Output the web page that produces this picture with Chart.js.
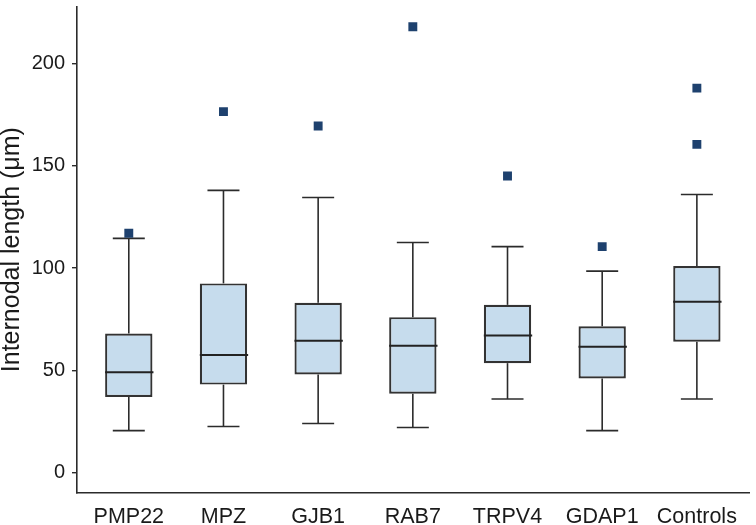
<!DOCTYPE html>
<html>
<head>
<meta charset="utf-8">
<script src="https://cdn.jsdelivr.net/npm/chart.js@4.4.1/dist/chart.umd.min.js"></script>
<style>
  html, body { margin: 0; padding: 0; background: #fff; }
  #wrap { width: 756px; height: 525px; position: relative; }
</style>
</head>
<body>
<div id="wrap"><canvas id="c"></canvas></div>
<script>
const categories   = ['PMP22', 'MPZ', 'GJB1', 'RAB7', 'TRPV4', 'GDAP1', 'Controls'];
const whiskerLow   = [20.5, 22.5, 24, 22, 36, 20.5, 36];
const quartile1    = [37, 43, 48, 38.5, 53.5, 46, 64];
const median       = [49, 57.5, 64.5, 62, 67, 61.5, 83.5];
const quartile3    = [68, 92.5, 83, 76, 82, 71.5, 101];
const whiskerHigh  = [114.5, 138, 134.5, 112.5, 110.5, 98.5, 136];
const outliers     = [[117], [176.5], [169.5], [218], [145], [110.5], [188, 160.5]];
const yTicks       = [0, 50, 100, 150, 200];

const FONT = "'Liberation Sans', Arial, Helvetica, sans-serif";
const INK = '#2b2b2b';

const boxData = categories.map((c, i) => ({ x: i, y: [quartile1[i], quartile3[i]] }));
const outlierData = [];
outliers.forEach((list, i) => list.forEach(v => outlierData.push({ x: i, y: v })));

const boxPlugin = {
  id: 'boxWhiskers',
  beforeDatasetsDraw(chart) {
    const { ctx, scales: { x, y } } = chart;
    ctx.save();
    ctx.strokeStyle = INK;
    ctx.lineWidth = 1.6;
    categories.forEach((c, i) => {
      const cx = x.getPixelForValue(i);
      const capHalf = 16;
      const segs = [[whiskerLow[i], quartile1[i]], [quartile3[i], whiskerHigh[i]]];
      segs.forEach(([a, b]) => {
        ctx.beginPath();
        ctx.moveTo(cx, y.getPixelForValue(a));
        ctx.lineTo(cx, y.getPixelForValue(b));
        ctx.stroke();
      });
      [whiskerLow[i], whiskerHigh[i]].forEach(v => {
        const py = y.getPixelForValue(v);
        ctx.beginPath();
        ctx.moveTo(cx - capHalf, py);
        ctx.lineTo(cx + capHalf, py);
        ctx.stroke();
      });
    });
    ctx.restore();
  },
  afterDatasetsDraw(chart) {
    const { ctx, scales: { x, y } } = chart;
    const meta = chart.getDatasetMeta(0);
    ctx.save();
    ctx.strokeStyle = '#222';
    ctx.lineWidth = 2;
    categories.forEach((c, i) => {
      const bar = meta.data[i];
      const half = bar.width / 2;
      const cx = x.getPixelForValue(i);
      const py = y.getPixelForValue(median[i]);
      ctx.beginPath();
      ctx.moveTo(cx - half, py);
      ctx.lineTo(cx + half + 1, py);
      ctx.stroke();
    });
    ctx.restore();
  }
};

new Chart(document.getElementById('c'), {
  type: 'bar',
  data: {
    datasets: [
      {
        type: 'bar',
        data: boxData,
        backgroundColor: '#c6dced',
        borderColor: '#333333',
        borderWidth: 2.2,
        borderSkipped: false,
        barPercentage: 0.5,
        categoryPercentage: 1,
        order: 2
      },
      {
        type: 'scatter',
        data: outlierData,
        pointStyle: 'rect',
        pointRadius: 6.3,
        backgroundColor: '#1e416e',
        borderColor: '#1e416e',
        borderWidth: 0,
        order: 1
      }
    ]
  },
  options: {
    responsive: true,
    maintainAspectRatio: false,
    animation: false,
    events: [],
    layout: { padding: { top: 2, right: 4, left: 0, bottom: 0 } },
    plugins: { legend: { display: false }, tooltip: { enabled: false } },
    scales: {
      x: {
        type: 'linear',
        min: -0.547,
        max: 6.558,
        offset: false,
        grid: { display: false },
        border: { display: true, color: INK, width: 1.6 },
        afterBuildTicks(scale) { scale.ticks = categories.map((c, i) => ({ value: i })); },
        afterFit(scale) { scale.height = 32; scale.paddingLeft = 0; scale.paddingRight = 0; },
        ticks: {
          autoSkip: false,
          maxRotation: 0,
          padding: 3,
          color: '#1a1a1a',
          font: { family: FONT, size: 21.5 },
          callback: (v) => categories[v]
        }
      },
      y: {
        min: -10,
        max: 228,
        grid: { display: true, drawOnChartArea: false, drawTicks: true, tickLength: 5, color: INK, lineWidth: 1.4 },
        border: { display: true, color: INK, width: 1.6 },
        afterBuildTicks(scale) { scale.ticks = yTicks.map(v => ({ value: v })); },
        afterFit(scale) { scale.width = 77; scale.paddingTop = 0; scale.paddingBottom = 0; },
        title: {
          display: true,
          text: 'Internodal length (μm)',
          color: '#1a1a1a',
          font: { family: FONT, size: 25, lineHeight: 1 },
          padding: { top: 0, bottom: 0 }
        },
        ticks: {
          padding: 7,
          color: '#1a1a1a',
          font: { family: FONT, size: 20 }
        }
      }
    }
  },
  plugins: [boxPlugin]
});
</script>
</body>
</html>
